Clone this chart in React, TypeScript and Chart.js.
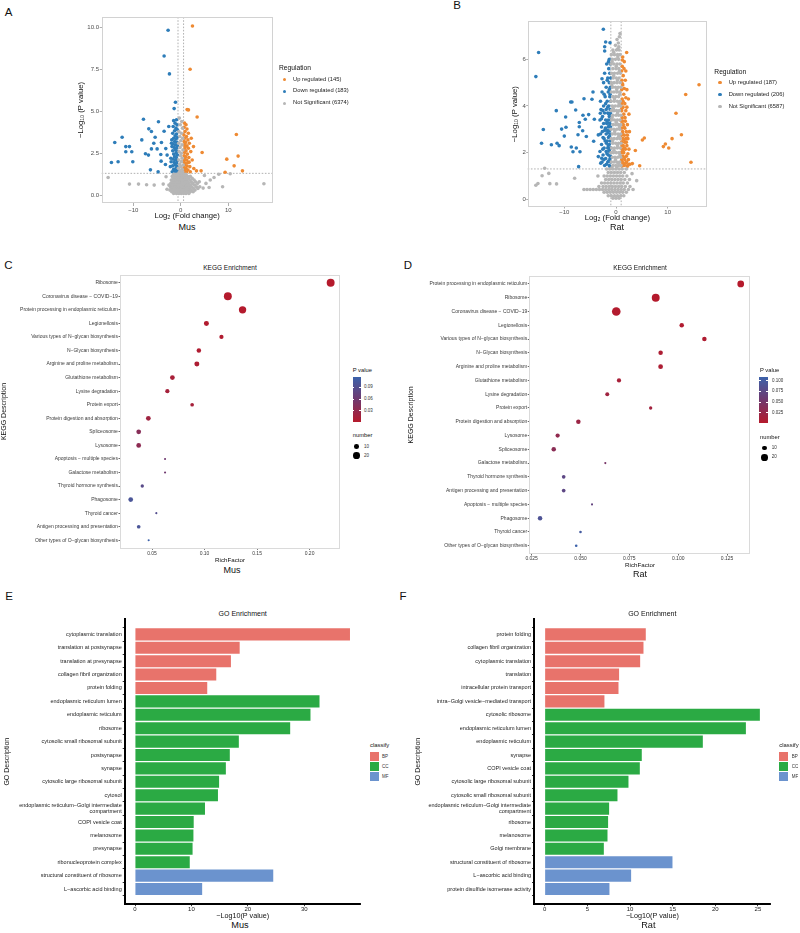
import React, { useEffect, useRef } from "react";
import { Chart, registerables } from "chart.js";

Chart.register(...registerables);

const FONT = "'Liberation Sans', Arial, Helvetica, sans-serif";

/* ---------------- Volcano plot: Mus ---------------- */
const musUp: number[][] = [
  [2.46, 10.1], [1.96, 7.52], [1.33, 5.11], [1.61, 5.09], [3.44, 4.67], [11.7, 3.62], [2.67, 2.9], [4.49, 2.55],
  [12.07, 2.33], [9.68, 2.15], [11.23, 1.75], [12.98, 1.45], [9.33, 1.37], [2.74, 1.59], [3.3, 1.45], [4.28, 1.45],
  [1.75, 1.97], [2.4, 2.1], [2.2, 3.4],
  [0.8, 4.3], [1.1, 4.2], [0.7, 4.05], [1.3, 3.95], [0.9, 3.8], [1.6, 3.7], [0.65, 3.6], [1.2, 3.5], [0.85, 3.4],
  [1.5, 3.3], [0.7, 3.2], [1.0, 3.15], [1.8, 3.1], [0.75, 3.0], [1.3, 2.95], [0.9, 2.85], [1.6, 2.8], [0.65, 2.7],
  [1.1, 2.65], [2.1, 2.6], [0.8, 2.55], [1.4, 2.45], [0.7, 2.35], [1.0, 2.3], [1.7, 2.25], [0.85, 2.15], [1.25, 2.1],
  [0.65, 2.0], [1.5, 1.95], [0.95, 1.9], [0.75, 1.8], [1.3, 1.75], [1.9, 1.7], [0.7, 1.65], [1.1, 1.6], [0.85, 1.5],
  [1.5, 1.5], [0.65, 1.42], [1.2, 1.38], [2.0, 1.4], [0.9, 1.35],
];
const musDown: number[][] = [
  [-2.67, 9.85], [-3.51, 8.31], [-2.39, 7.24], [-1.12, 5.55], [-1.4, 5.17], [-7.86, 4.53], [-4.7, 4.38], [-6.74, 3.96],
  [-6.18, 3.8], [-3.51, 3.82], [-13.9, 3.14], [-12.35, 3.46], [-8.21, 3.3], [-5.4, 3.46], [-11.58, 2.9], [-10.81, 2.9],
  [-11.58, 2.59], [-10.32, 2.59], [-5.68, 3.1], [-4.07, 3.14], [-6.18, 2.76], [-4.98, 2.76], [-7.44, 2.47], [-6.81, 2.39],
  [-4.21, 2.43], [-3.16, 2.78], [-2.88, 2.39], [-14.6, 1.95], [-13.2, 1.99], [-10.1, 1.99], [-4.14, 2.03], [-3.23, 1.83],
  [-6.39, 1.51], [-4.77, 1.39], [-1.96, 3.1], [-2.04, 1.99], [-2.53, 4.1],
  [-0.9, 4.5], [-1.5, 4.45], [-1.2, 4.3], [-0.8, 4.2], [-1.6, 4.1], [-1.0, 4.0], [-0.7, 3.9], [-1.3, 3.85], [-1.7, 3.7],
  [-0.9, 3.65], [-1.2, 3.55], [-0.75, 3.45], [-1.5, 3.4], [-1.0, 3.35], [-1.3, 3.2], [-0.8, 3.15], [-1.6, 3.05], [-1.1, 3.0],
  [-0.7, 2.95], [-1.4, 2.85], [-0.9, 2.8], [-1.2, 2.7], [-1.7, 2.65], [-0.8, 2.6], [-1.0, 2.5], [-1.5, 2.45], [-0.7, 2.4],
  [-1.3, 2.3], [-0.95, 2.25], [-1.6, 2.15], [-1.1, 2.1], [-0.75, 2.05], [-1.4, 1.95], [-0.9, 1.9], [-1.2, 1.8], [-1.7, 1.75],
  [-0.8, 1.7], [-1.0, 1.6], [-1.5, 1.55], [-0.7, 1.5], [-1.3, 1.45], [-1.0, 1.38], [-0.65, 1.35], [-1.8, 1.4], [-2.1, 2.2],
  [-1.9, 3.3], [-2.2, 1.7], [-1.85, 2.9],
];
const musNotSig: number[][] = [
  [-0.3, 4.6], [0.2, 4.4], [-0.1, 4.2], [0.35, 4.0], [-0.4, 3.8], [0.1, 3.7], [-0.2, 3.5], [0.4, 3.4], [0.0, 3.25],
  [-0.45, 3.1], [0.25, 3.0], [-0.15, 2.85], [0.45, 2.7], [-0.35, 2.6], [0.1, 2.5], [-0.05, 2.35], [0.3, 2.2], [-0.4, 2.1],
  [0.15, 2.0], [-0.25, 1.85], [0.5, 1.8], [0.0, 1.7], [-0.5, 1.6], [0.3, 1.55], [-0.15, 1.45], [0.4, 1.4], [-0.35, 1.35],
  [0.1, 1.3],
  [-1.5, 1.25], [-1.0, 1.25], [-0.6, 1.25], [-0.2, 1.25], [0.3, 1.25], [0.7, 1.25], [1.1, 1.25],
  [-1.8, 1.12], [-1.3, 1.12], [-0.8, 1.12], [-0.4, 1.12], [0.0, 1.12], [0.5, 1.12], [0.9, 1.12], [1.4, 1.12], [2.0, 1.12],
  [-1.6, 1.0], [-1.1, 1.0], [-0.7, 1.0], [-0.3, 1.0], [0.2, 1.0], [0.6, 1.0], [1.0, 1.0], [1.6, 1.0], [2.4, 1.0],
  [-2.0, 0.9], [-1.4, 0.9], [-0.9, 0.9], [-0.5, 0.9], [-0.1, 0.9], [0.3, 0.9], [0.8, 0.9], [1.2, 0.9], [1.9, 0.9], [2.8, 0.9],
  [-1.8, 0.8], [-1.2, 0.8], [-0.7, 0.8], [-0.2, 0.8], [0.1, 0.8], [0.5, 0.8], [1.0, 0.8], [1.5, 0.8], [2.2, 0.8], [3.1, 0.8],
  [-2.1, 0.7], [-1.5, 0.7], [-1.0, 0.7], [-0.6, 0.7], [-0.3, 0.7], [0.2, 0.7], [0.7, 0.7], [1.1, 0.7], [1.7, 0.7], [2.5, 0.7], [3.5, 0.7],
  [-1.9, 0.6], [-1.3, 0.6], [-0.8, 0.6], [-0.4, 0.6], [0.0, 0.6], [0.4, 0.6], [0.9, 0.6], [1.4, 0.6], [2.0, 0.6], [2.9, 0.6],
  [-2.2, 0.5], [-1.6, 0.5], [-1.1, 0.5], [-0.6, 0.5], [-0.2, 0.5], [0.3, 0.5], [0.6, 0.5], [1.1, 0.5], [1.6, 0.5], [2.3, 0.5], [3.3, 0.5], [4.0, 0.5],
  [-2.0, 0.4], [-1.4, 0.4], [-0.9, 0.4], [-0.4, 0.4], [0.1, 0.4], [0.5, 0.4], [0.9, 0.4], [1.3, 0.4], [1.9, 0.4], [2.7, 0.4], [3.6, 0.4],
  [-2.3, 0.3], [-1.7, 0.3], [-1.2, 0.3], [-0.7, 0.3], [-0.3, 0.3], [0.2, 0.3], [0.7, 0.3], [1.2, 0.3], [1.7, 0.3], [2.2, 0.3], [3.0, 0.3],
  [-1.9, 0.2], [-1.3, 0.2], [-0.8, 0.2], [-0.2, 0.2], [0.3, 0.2], [0.8, 0.2], [1.4, 0.2], [2.0, 0.2], [2.6, 0.2],
  [-1.5, 0.1], [-0.9, 0.1], [-0.4, 0.1], [0.1, 0.1], [0.6, 0.1], [1.1, 0.1], [1.7, 0.1],
  [-15.3, 1.05], [-10.8, 0.66], [-8.9, 0.66], [-7.2, 0.62], [-5.6, 0.6], [-3.7, 0.66], [-2.5, 0.6], [17.5, 0.68], [8.8, 0.5],
  [5.96, 0.46], [4.7, 0.42], [4.98, 1.17], [8.0, 1.25], [6.2, 0.9], [7.0, 1.05], [10.4, 1.28], [3.9, 0.8], [-3.1, 1.1],
  [-2.9, 0.35], [5.3, 0.7],
];
const musRegulation = ["Up regulated (145)", "Down regulated (183)", "Not Significant (6374)"];
const musFoldCut = 0.585;
const musVolcanoYTicks = [0, 2.5, 5, 7.5, 10];

/* ---------------- Volcano plot: Rat ---------------- */
const ratUp: number[][] = [
  [2.06, 6.29], [1.23, 5.97], [16.06, 4.91], [13.48, 4.49], [11.6, 3.69], [12.65, 2.77], [10.84, 2.6], [5.48, 2.63],
  [5.1, 2.54], [9.55, 2.37], [9.16, 2.26], [10.2, 2.2], [3.74, 2.09], [14.5, 1.59], [3.16, 1.53], [4.58, 1.44], [2.7, 1.5],
  [1.3, 6.1], [1.6, 5.9], [1.2, 5.7], [1.9, 5.5], [1.1, 5.5], [1.4, 5.3], [1.15, 5.1], [1.8, 5.1], [1.3, 4.9], [2.1, 4.7],
  [1.1, 4.7], [1.5, 4.5], [1.2, 4.3], [2.4, 4.3], [1.7, 4.1], [1.05, 4.1], [1.35, 3.95], [1.1, 3.8], [1.9, 3.8], [1.5, 3.65],
  [2.5, 3.65], [1.2, 3.5], [1.05, 3.35], [1.8, 3.35], [1.4, 3.2], [2.2, 3.2], [1.1, 3.05], [1.7, 3.05], [1.3, 2.9], [2.0, 2.9],
  [2.6, 2.9], [1.05, 2.75], [1.6, 2.75], [1.35, 2.6], [1.9, 2.6], [2.3, 2.6], [1.1, 2.45], [1.7, 2.45], [1.4, 2.3], [2.1, 2.3],
  [1.2, 2.15], [1.8, 2.15], [2.5, 2.15], [1.05, 2.0], [1.5, 2.0], [1.3, 1.85], [2.0, 1.85], [1.1, 1.7], [1.7, 1.7], [2.4, 1.7],
  [1.4, 1.55], [1.9, 1.55], [1.15, 1.42], [2.2, 1.42],
  [1.55, 5.6], [1.25, 4.95], [1.6, 4.75], [1.9, 4.35], [1.35, 4.2], [1.15, 3.9], [2.1, 3.95], [1.75, 3.5], [1.3, 3.35],
  [1.55, 3.1], [1.2, 2.8], [2.2, 2.75], [1.5, 2.55], [2.0, 2.45], [1.15, 2.3], [1.65, 2.2], [1.35, 2.05], [2.3, 1.95],
  [1.55, 1.8], [1.2, 1.6], [2.05, 1.6], [1.6, 1.45], [2.5, 1.5],
];
const ratDown: number[][] = [
  [-2.45, 7.29], [-14.97, 6.29], [-15.5, 5.26], [-2.0, 6.74], [-1.16, 6.71], [-2.19, 6.54], [-2.19, 6.36], [-2.71, 5.17],
  [-4.45, 4.6], [-6.19, 4.31], [-4.65, 4.29], [-8.77, 4.17], [-8.52, 4.17], [-11.55, 3.8], [-7.8, 3.83], [-6.39, 3.6],
  [-5.29, 3.63], [-9.74, 3.53], [-5.94, 3.43], [-4.19, 3.43], [-7.1, 3.29], [-14.06, 2.99], [-10.52, 3.01], [-9.68, 3.09],
  [-7.1, 3.11], [-6.45, 2.94], [-10.0, 2.71], [-7.35, 2.77], [-5.74, 2.69], [-4.32, 2.49], [-14.4, 2.4], [-12.5, 2.34],
  [-11.4, 2.4], [-11.0, 2.3], [-8.65, 2.24], [-7.68, 2.2], [-8.32, 2.04], [-6.97, 2.04], [-3.42, 2.76], [-3.42, 1.83],
  [-2.77, 1.76], [-7.23, 1.4], [-3.03, 3.69],
  [-1.3, 6.0], [-1.8, 5.8], [-1.1, 5.8], [-1.4, 5.6], [-2.2, 5.4], [-1.2, 5.4], [-1.6, 5.2], [-1.05, 5.2], [-2.4, 5.0],
  [-1.3, 5.0], [-1.9, 4.8], [-1.1, 4.8], [-2.7, 4.6], [-1.5, 4.6], [-2.1, 4.4], [-1.2, 4.4], [-3.0, 4.2], [-1.7, 4.2],
  [-1.05, 4.2], [-2.4, 4.0], [-1.4, 4.0], [-2.9, 3.85], [-1.9, 3.85], [-1.15, 3.85], [-2.2, 3.7], [-1.6, 3.7], [-1.05, 3.7],
  [-2.6, 3.55], [-1.3, 3.55], [-3.1, 3.4], [-2.0, 3.4], [-1.5, 3.4], [-1.1, 3.4], [-2.4, 3.25], [-1.8, 3.25], [-1.2, 3.25],
  [-2.8, 3.1], [-1.5, 3.1], [-1.05, 3.1], [-2.2, 2.95], [-1.7, 2.95], [-1.25, 2.95], [-3.0, 2.8], [-1.9, 2.8], [-1.1, 2.8],
  [-2.5, 2.65], [-1.45, 2.65], [-2.1, 2.5], [-1.7, 2.5], [-1.15, 2.5], [-2.8, 2.35], [-1.3, 2.35], [-2.3, 2.2], [-1.6, 2.2],
  [-1.05, 2.2], [-3.1, 2.05], [-1.9, 2.05], [-1.25, 2.05], [-2.5, 1.9], [-1.5, 1.9], [-2.0, 1.75], [-1.15, 1.75], [-2.7, 1.6],
  [-1.6, 1.6], [-1.05, 1.6], [-2.2, 1.45], [-1.3, 1.45],
  [-1.45, 5.9], [-1.7, 5.1], [-1.3, 4.7], [-2.3, 4.5], [-1.15, 4.5], [-2.0, 4.1], [-1.6, 3.95], [-2.55, 3.8], [-1.35, 3.65],
  [-2.8, 3.45], [-1.7, 3.3], [-1.35, 3.15], [-2.05, 3.05], [-2.65, 2.9], [-1.55, 2.85], [-1.3, 2.7], [-2.3, 2.6], [-1.85, 2.4],
  [-1.5, 2.3], [-2.55, 2.15], [-1.35, 2.1], [-1.75, 1.95], [-1.1, 1.85], [-2.35, 1.7], [-1.4, 1.65], [-1.85, 1.5], [-2.95, 1.55],
  [-1.15, 1.4],
];
const ratNotSig: number[][] = [
  [0.77, 7.11], [0.65, 6.97], [0.45, 6.7], [0.55, 6.54], [0.2, 6.85], [-0.1, 6.6], [0.35, 6.45],
  [-0.6, 6.4], [0.1, 6.4], [0.6, 6.4], [-0.9, 6.2], [-0.3, 6.2], [0.3, 6.2], [0.8, 6.2], [-0.7, 6.0], [-0.1, 6.0], [0.5, 6.0],
  [-0.95, 5.8], [-0.4, 5.8], [0.2, 5.8], [0.75, 5.8], [-0.6, 5.6], [0.0, 5.6], [0.55, 5.6], [-0.85, 5.4], [-0.3, 5.4], [0.3, 5.4],
  [0.85, 5.4], [-0.55, 5.2], [0.05, 5.2], [0.6, 5.2], [-0.9, 5.0], [-0.35, 5.0], [0.2, 5.0], [0.8, 5.0], [-0.65, 4.8], [-0.1, 4.8],
  [0.45, 4.8], [0.95, 4.8], [-0.9, 4.6], [-0.4, 4.6], [0.15, 4.6], [0.7, 4.6], [-0.6, 4.4], [-0.05, 4.4], [0.5, 4.4],
  [-0.95, 4.2], [-0.35, 4.2], [0.25, 4.2], [0.8, 4.2], [-0.7, 4.0], [-0.15, 4.0], [0.4, 4.0], [0.9, 4.0], [-0.9, 3.8],
  [-0.4, 3.8], [0.1, 3.8], [0.65, 3.8], [-0.6, 3.6], [0.0, 3.6], [0.5, 3.6], [0.95, 3.6], [-0.85, 3.4], [-0.3, 3.4], [0.25, 3.4],
  [0.75, 3.4], [-0.55, 3.2], [-0.05, 3.2], [0.45, 3.2], [0.9, 3.2], [-0.95, 3.0], [-0.4, 3.0], [0.15, 3.0], [0.7, 3.0],
  [-0.7, 2.8], [-0.15, 2.8], [0.4, 2.8], [0.9, 2.8], [-0.9, 2.6], [-0.35, 2.6], [0.2, 2.6], [0.75, 2.6], [-0.6, 2.4],
  [-0.05, 2.4], [0.5, 2.4], [0.95, 2.4], [-0.85, 2.2], [-0.3, 2.2], [0.25, 2.2], [0.8, 2.2], [-0.95, 2.0], [-0.5, 2.0],
  [0.05, 2.0], [0.6, 2.0], [-0.7, 1.8], [-0.2, 1.8], [0.35, 1.8], [0.9, 1.8], [-0.9, 1.6], [-0.4, 1.6], [0.15, 1.6], [0.7, 1.6],
  [-0.6, 1.45], [-0.05, 1.45], [0.5, 1.45], [0.95, 1.45],
  [-0.45, 6.3], [0.35, 6.1], [-0.75, 5.9], [0.05, 5.7], [0.65, 5.5], [-0.45, 5.3], [0.3, 5.1], [-0.8, 4.9], [0.15, 4.7],
  [0.75, 4.5], [-0.3, 4.3], [0.6, 4.1], [-0.55, 3.9], [0.3, 3.7], [-0.75, 3.5], [0.05, 3.3], [0.65, 3.1], [-0.25, 2.9],
  [0.55, 2.7], [-0.65, 2.5], [0.3, 2.3], [-0.4, 2.1], [0.75, 1.9], [-0.1, 1.7], [0.45, 1.55], [-0.8, 1.35], [0.15, 1.38],
  [-1.8, 1.3], [-1.2, 1.3], [-0.6, 1.3], [0.0, 1.3], [0.6, 1.3], [1.2, 1.3], [2.0, 1.3],
  [-1.5, 1.15], [-0.9, 1.15], [-0.3, 1.15], [0.3, 1.15], [0.9, 1.15], [1.6, 1.15],
  [-2.3, 1.0], [-1.7, 1.0], [-1.1, 1.0], [-0.5, 1.0], [0.1, 1.0], [0.7, 1.0], [1.3, 1.0], [2.1, 1.0],
  [-2.0, 0.85], [-1.4, 0.85], [-0.8, 0.85], [-0.2, 0.85], [0.4, 0.85], [1.0, 0.85], [1.7, 0.85], [2.6, 0.85],
  [-2.8, 0.7], [-2.2, 0.7], [-1.6, 0.7], [-1.0, 0.7], [-0.4, 0.7], [0.2, 0.7], [0.8, 0.7], [1.4, 0.7], [2.2, 0.7],
  [-3.3, 0.55], [-2.5, 0.55], [-1.9, 0.55], [-1.3, 0.55], [-0.7, 0.55], [-0.1, 0.55], [0.5, 0.55], [1.1, 0.55], [1.8, 0.55], [2.7, 0.55],
  [-6.2, 0.42], [-5.6, 0.42], [-5.0, 0.42], [-4.4, 0.42], [-3.8, 0.42], [-3.2, 0.42], [-2.6, 0.42], [-2.0, 0.42], [-1.4, 0.42],
  [-0.8, 0.42], [-0.2, 0.42], [0.4, 0.42], [1.0, 0.42], [1.6, 0.42], [2.4, 0.42], [3.3, 0.42],
  [-2.3, 0.3], [-1.7, 0.3], [-1.1, 0.3], [-0.5, 0.3], [0.1, 0.3], [0.7, 0.3], [1.3, 0.3], [2.0, 0.3],
  [-1.5, 0.15], [-0.9, 0.15], [-0.3, 0.15], [0.3, 0.15], [0.9, 0.15], [1.5, 0.15], [-0.6, 0.05], [0.0, 0.05], [0.6, 0.05],
  [-15.5, 0.6], [-15.1, 0.68], [-14.3, 1.01], [-13.0, 1.11], [-12.8, 0.67], [-11.5, 0.66], [-13.8, 1.33], [-8.0, 0.9],
  [-3.5, 1.0], [4.0, 0.8], [3.1, 1.1],
];
const ratRegulation = ["Up regulated (187)", "Down regulated (206)", "Not Significant (6587)"];
const ratFoldCut = 1;
const ratVolcanoYTicks = [0, 2, 4, 6];

const pValueCut = 1.301; // -log10(0.05)
const volcanoXTicks = [-10, 0, 10];

/* ---------------- KEGG enrichment: Mus ---------------- */
const musKeggTerms = [
  "Ribosome", "Coronavirus disease \u2212 COVID\u221219", "Protein processing in endoplasmic reticulum", "Legionellosis",
  "Various types of N\u2212glycan biosynthesis", "N\u2212Glycan biosynthesis", "Arginine and proline metabolism",
  "Glutathione metabolism", "Lysine degradation", "Protein export", "Protein digestion and absorption", "Spliceosome",
  "Lysosome", "Apoptosis \u2212 multiple species", "Galactose metabolism", "Thyroid hormone synthesis", "Phagosome",
  "Thyroid cancer", "Antigen processing and presentation", "Other types of O\u2212glycan biosynthesis",
];
const musKeggRich = [0.2201, 0.1222, 0.1362, 0.1018, 0.1161, 0.0946, 0.0927, 0.0694, 0.0646, 0.0882, 0.0465, 0.0373, 0.0373, 0.0624, 0.0624, 0.0407, 0.0297, 0.0541, 0.0373, 0.0468];
const musKeggCount = [28, 28, 24, 11, 8, 9, 11, 10, 8, 6, 10, 10, 10, 2, 2, 5, 10, 2, 6, 2];
const musKeggP = [0.0015, 0.002, 0.002, 0.004, 0.005, 0.006, 0.008, 0.012, 0.015, 0.014, 0.02, 0.04, 0.035, 0.06, 0.06, 0.085, 0.1, 0.09, 0.1, 0.117];
const musRichTicks = [0.05, 0.1, 0.15, 0.2];
const musPTicks = [0.03, 0.06, 0.09];

/* ---------------- KEGG enrichment: Rat ---------------- */
const ratKeggTerms = [
  "Protein processing in endoplasmic reticulum", "Ribosome", "Coronavirus disease \u2212 COVID\u221219", "Legionellosis",
  "Various types of N\u2212glycan biosynthesis", "N\u2212Glycan biosynthesis", "Arginine and proline metabolism",
  "Glutathione metabolism", "Lysine degradation", "Protein export", "Protein digestion and absorption", "Lysosome",
  "Spliceosome", "Galactose metabolism", "Thyroid hormone synthesis", "Antigen processing and presentation",
  "Apoptosis \u2212 multiple species", "Phagosome", "Thyroid cancer", "Other types of O\u2212glycan biosynthesis",
];
const ratKeggRich = [0.132, 0.0885, 0.0683, 0.1018, 0.1134, 0.091, 0.091, 0.0697, 0.0637, 0.0859, 0.0489, 0.0383, 0.0363, 0.0627, 0.0414, 0.0414, 0.0559, 0.0293, 0.05, 0.0478];
const ratKeggCount = [20, 28, 33, 9, 9, 9, 10, 8, 7, 5, 9, 8, 9, 2, 6, 6, 2, 9, 3, 3];
const ratKeggP = [0.0016, 0.002, 0.003, 0.005, 0.006, 0.008, 0.008, 0.012, 0.018, 0.016, 0.022, 0.03, 0.035, 0.05, 0.075, 0.075, 0.07, 0.09, 0.1, 0.109];
const ratRichTicks = [0.025, 0.05, 0.075, 0.1, 0.125];
const ratPTicks = [0.025, 0.05, 0.075, 0.1];

const numberLegend = [10, 20];

/* ---------------- GO enrichment: Mus ---------------- */
const musGoTerms = [
  "cytoplasmic translation", "translation at postsynapse", "translation at presynapse", "collagen fibril organization",
  "protein folding", "endoplasmic reticulum lumen", "endoplasmic reticulum", "ribosome", "cytosolic small ribosomal subunit",
  "postsynapse", "synapse", "cytosolic large ribosomal subunit", "cytosol",
  "endoplasmic reticulum\u2212Golgi intermediate compartment", "COPI vesicle coat", "melanosome", "presynapse",
  "ribonucleoprotein complex", "structural constituent of ribosome", "L\u2212ascorbic acid binding",
];
const musGoValues = [38.1, 18.55, 17.0, 14.4, 12.8, 32.7, 31.1, 27.5, 18.4, 16.8, 16.1, 14.9, 14.7, 12.4, 10.4, 10.35, 10.2, 9.7, 24.5, 11.9];
const musGoClass = ["BP", "BP", "BP", "BP", "BP", "CC", "CC", "CC", "CC", "CC", "CC", "CC", "CC", "CC", "CC", "CC", "CC", "CC", "MF", "MF"];
const musGoTicks = [0, 10, 20, 30];

/* ---------------- GO enrichment: Rat ---------------- */
const ratGoTerms = [
  "protein folding", "collagen fibril organization", "cytoplasmic translation", "translation",
  "intracellular protein transport", "intra\u2212Golgi vesicle\u2212mediated transport", "cytosolic ribosome",
  "endoplasmic reticulum lumen", "endoplasmic reticulum", "synapse", "COPI vesicle coat",
  "cytosolic large ribosomal subunit", "cytosolic small ribosomal subunit",
  "endoplasmic reticulum\u2212Golgi intermediate compartment", "ribosome", "melanosome", "Golgi membrane",
  "structural constituent of ribosome", "L\u2212ascorbic acid binding", "protein disulfide isomerase activity",
];
const ratGoValues = [11.85, 11.58, 11.19, 8.72, 8.65, 7.0, 25.23, 23.59, 18.54, 11.38, 11.15, 9.82, 8.53, 7.55, 7.43, 7.36, 6.93, 14.98, 10.13, 7.59];
const ratGoClass = ["BP", "BP", "BP", "BP", "BP", "BP", "CC", "CC", "CC", "CC", "CC", "CC", "CC", "CC", "CC", "CC", "CC", "MF", "MF", "MF"];
const ratGoTicks = [0, 5, 10, 15, 20, 25];

const goClasses = ["BP", "CC", "MF"];

/* ---------------- styling ---------------- */
const ORANGE = "#EE8A33";
const BLUE = "#2E7DB9";
const GREY = "#B6B6B6";
const GO_COLORS: Record<string, string> = { BP: "#E8736B", CC: "#2BAA44", MF: "#6B93CE" };
const P_LOW = [181, 26, 44];
const P_MID = [112, 56, 110];
const P_HIGH = [60, 98, 170];

function pColor(p: number, lo: number, hi: number) {
  const t = Math.min(1, Math.max(0, (p - lo) / (hi - lo)));
  const [a, b, u] = t < 0.5 ? [P_LOW, P_MID, t * 2] : [P_MID, P_HIGH, (t - 0.5) * 2];
  const c = (a as number[]).map((v, i) => Math.round(v + ((b as number[])[i] - v) * (u as number)));
  return `rgb(${c[0]},${c[1]},${c[2]})`;
}
const rgbStr = (c: number[]) => `rgb(${c[0]},${c[1]},${c[2]})`;
const dotRadius = (n: number) => 0.75 * Math.sqrt(n);
const minusFmt = (v: number) => (v < 0 ? "\u2212" + Math.abs(v) : String(v));

function wrapLabel(s: string, width = 40): string | string[] {
  if (s.length <= width) return s;
  const lines: string[] = [];
  let cur = "";
  for (const w of s.split(" ")) {
    if (cur && (cur + " " + w).length > width) {
      lines.push(cur);
      cur = w;
    } else cur = cur ? cur + " " + w : w;
  }
  if (cur) lines.push(cur);
  return lines;
}

/* ---------------- layout helpers ---------------- */
interface Geo { cl: number; ct: number; cw: number; ch: number; pl: number; pt: number; pr: number; pb: number; }

function frameLayout(g: Geo) {
  return {
    padding: { left: 0, top: g.pt - g.ct, right: g.cl + g.cw - g.pr, bottom: 0 },
    yWidth: g.pl - g.cl,
    xHeight: g.ct + g.ch - g.pb,
  };
}

interface AxisOpts {
  min: number; max: number; ticks: number[]; label: (v: number) => string | string[];
  size: number; color: string; tickLen: number; pad: number; tickColor: string;
  fit: (s: any) => void; title?: string; titleSize?: number; reverse?: boolean;
  border?: { color: string; width: number }; lineHeight?: number;
}

function axis(o: AxisOpts) {
  return {
    type: "linear",
    min: o.min,
    max: o.max,
    reverse: !!o.reverse,
    afterBuildTicks: (s: any) => {
      s.ticks = o.ticks.map((value) => ({ value }));
    },
    afterFit: o.fit,
    ticks: {
      autoSkip: false, maxRotation: 0, minRotation: 0, padding: o.pad, color: o.color,
      font: { family: FONT, size: o.size, lineHeight: o.lineHeight ?? 1.2 },
      callback: (v: any) => o.label(Number(v)),
    },
    grid: { display: true, drawOnChartArea: false, drawTicks: true, tickLength: o.tickLen, color: o.tickColor, lineWidth: 0.8 },
    border: o.border ? { display: true, color: o.border.color, width: o.border.width } : { display: false },
    title: o.title
      ? { display: true, text: o.title, color: "#111", font: { family: FONT, size: o.titleSize }, padding: 0 }
      : { display: false },
  };
}

const framePlugin = {
  id: "frame",
  afterDatasetsDraw(chart: any, _a: any, opts: any) {
    if (!opts || !opts.color) return;
    const { ctx, chartArea: a } = chart;
    ctx.save();
    ctx.strokeStyle = opts.color;
    ctx.lineWidth = 1;
    ctx.strokeRect(Math.round(a.left) + 0.5, Math.round(a.top) + 0.5, Math.round(a.right - a.left) - 1, Math.round(a.bottom - a.top) - 1);
    ctx.restore();
  },
};

const cutLinesPlugin = {
  id: "cutLines",
  beforeDatasetsDraw(chart: any, _a: any, opts: any) {
    if (!opts || !opts.xs) return;
    const { ctx, chartArea: a, scales } = chart;
    ctx.save();
    ctx.strokeStyle = "#A8A8A8";
    ctx.lineWidth = 0.9;
    ctx.setLineDash([1.6, 1.6]);
    for (const v of opts.xs) {
      const px = scales.x.getPixelForValue(v);
      ctx.beginPath();
      ctx.moveTo(px, a.top);
      ctx.lineTo(px, a.bottom);
      ctx.stroke();
    }
    const py = scales.y.getPixelForValue(opts.y);
    ctx.beginPath();
    ctx.moveTo(a.left, py);
    ctx.lineTo(a.right, py);
    ctx.stroke();
    ctx.restore();
  },
};

const baseOptions = (g: Geo) => ({
  responsive: false,
  animation: false,
  events: [],
  layout: { padding: frameLayout(g).padding },
});

/* ---------------- chart builders ---------------- */
function volcano(canvas: HTMLCanvasElement, g: Geo, d: {
  up: number[][]; down: number[][]; ns: number[][]; xMin: number; xMax: number; yMin: number; yMax: number;
  yTicks: number[]; yFmt: (v: number) => string; fold: number; xTl: [number, number]; yTl: [number, number];
}) {
  const L = frameLayout(g);
  const ds = (pts: number[][], color: string) => ({
    data: pts.map(([x, y]) => ({ x, y })),
    pointBackgroundColor: color,
    pointBorderWidth: 0,
    pointRadius: 1.8,
    showLine: false,
  });
  return new Chart(canvas, {
    type: "scatter",
    data: { datasets: [ds(d.ns, GREY), ds(d.down, BLUE), ds(d.up, ORANGE)] },
    options: {
      ...baseOptions(g),
      plugins: {
        legend: { display: false }, tooltip: { enabled: false },
        frame: { color: "#D2D2D2" }, cutLines: { xs: [-d.fold, d.fold], y: pValueCut },
      },
      scales: {
        x: axis({
          min: d.xMin, max: d.xMax, ticks: volcanoXTicks, label: minusFmt, size: 6, color: "#4D4D4D",
          tickLen: d.xTl[0], pad: d.xTl[1], tickColor: "#9A9A9A", fit: (s) => { s.height = L.xHeight; },
          title: "Log\u2082 (Fold change)", titleSize: 7.7,
        }),
        y: axis({
          min: d.yMin, max: d.yMax, ticks: d.yTicks, label: d.yFmt, size: 6, color: "#4D4D4D",
          tickLen: d.yTl[0], pad: d.yTl[1], tickColor: "#9A9A9A", fit: (s) => { s.width = L.yWidth; },
          title: "\u2212Log\u2081\u2080 (P value)", titleSize: 7.7,
        }),
      },
    } as any,
    plugins: [framePlugin, cutLinesPlugin],
  });
}

function kegg(canvas: HTMLCanvasElement, g: Geo, d: {
  terms: string[]; rich: number[]; count: number[]; p: number[]; xMin: number; xMax: number;
  xTicks: number[]; xFmt: (v: number) => string;
}) {
  const L = frameLayout(g);
  const lo = Math.min(...d.p);
  const hi = Math.max(...d.p);
  return new Chart(canvas, {
    type: "scatter",
    data: {
      datasets: [{
        data: d.terms.map((_, i) => ({ x: d.rich[i], y: i })),
        pointBackgroundColor: d.p.map((p) => pColor(p, lo, hi)),
        pointRadius: d.count.map(dotRadius),
        pointBorderWidth: 0,
        showLine: false,
      }],
    },
    options: {
      ...baseOptions(g),
      plugins: { legend: { display: false }, tooltip: { enabled: false }, frame: { color: "#DADADA" } },
      scales: {
        x: axis({
          min: d.xMin, max: d.xMax, ticks: d.xTicks, label: d.xFmt, size: 5, color: "#3A3A3A",
          tickLen: 1.5, pad: 0.3, tickColor: "#444", fit: (s) => { s.height = L.xHeight; },
          title: "RichFactor", titleSize: 6.2,
        }),
        y: axis({
          min: -0.6, max: d.terms.length - 0.4, reverse: true, ticks: d.terms.map((_, i) => i),
          label: (v) => d.terms[Math.round(v)] ?? "", size: 5, color: "#3A3A3A",
          tickLen: 1.5, pad: 0.6, tickColor: "#444", fit: (s) => { s.width = L.yWidth; },
          title: "KEGG Description", titleSize: 7,
        }),
      },
    } as any,
    plugins: [framePlugin],
  });
}

function goBars(canvas: HTMLCanvasElement, g: Geo, d: {
  terms: string[]; values: number[]; cls: string[]; xMin: number; xMax: number; xTicks: number[];
}) {
  const L = frameLayout(g);
  return new Chart(canvas, {
    type: "bar",
    data: {
      datasets: [{
        data: d.terms.map((_, i) => ({ x: d.values[i], y: i })),
        backgroundColor: d.cls.map((c) => GO_COLORS[c]),
        borderWidth: 0,
        barPercentage: 0.9,
        categoryPercentage: 1,
      }],
    },
    options: {
      ...baseOptions(g),
      indexAxis: "y",
      plugins: { legend: { display: false }, tooltip: { enabled: false } },
      scales: {
        x: axis({
          min: d.xMin, max: d.xMax, ticks: d.xTicks, label: (v) => String(v), size: 6, color: "#222",
          tickLen: 2, pad: -0.8, tickColor: "#000", fit: (s) => { s.height = L.xHeight; },
          title: "\u2212Log10(P value)", titleSize: 7.2, border: { color: "#000", width: 2 },
        }),
        y: axis({
          min: -0.6, max: d.terms.length - 0.4, reverse: true, ticks: d.terms.map((_, i) => i),
          label: (v) => wrapLabel(d.terms[Math.round(v)] ?? ""), size: 5.5, color: "#222", lineHeight: 1.05,
          tickLen: 2, pad: 1, tickColor: "#000", fit: (s) => { s.width = L.yWidth; },
          title: "GO Description", titleSize: 7, border: { color: "#000", width: 2 },
        }),
      },
    } as any,
  });
}

/* ---------------- panel geometry (canvas box + plot box) ---------------- */
const geoA: Geo = { cl: 76, ct: 4, cw: 204, ch: 217, pl: 101.7, pt: 17, pr: 272.7, pb: 203 };
const geoB: Geo = { cl: 510, ct: 8, cw: 205, ch: 215, pl: 527.7, pt: 21.3, pr: 707, pb: 207 };
const geoC: Geo = { cl: 0, ct: 268, cw: 348, ch: 296, pl: 120, pt: 274.6, pr: 340, pb: 548.4 };
const geoD: Geo = { cl: 407, ct: 268, cw: 352, ch: 301, pl: 529.3, pt: 275.7, pr: 750.7, pb: 554 };
const geoE: Geo = { cl: 3, ct: 612, cw: 365, ch: 308, pl: 124.7, pt: 619.2, pr: 360.7, pb: 904.2 };
const geoF: Geo = { cl: 414, ct: 612, cw: 364, ch: 308, pl: 534, pt: 619.2, pr: 770.7, pb: 904.2 };

/* ---------------- React pieces ---------------- */
function ChartBox({ geo, build }: { geo: Geo; build: (c: HTMLCanvasElement, g: Geo) => Chart }) {
  const ref = useRef<HTMLCanvasElement | null>(null);
  useEffect(() => {
    if (!ref.current) return;
    const chart = build(ref.current, geo);
    return () => chart.destroy();
  }, []);
  return (
    <canvas
      ref={ref}
      width={geo.cw}
      height={geo.ch}
      style={{ position: "absolute", left: geo.cl, top: geo.ct, width: geo.cw, height: geo.ch }}
    />
  );
}

function Txt({ x, y, size, children, anchor = "middle", color = "#111" }: {
  x: number; y: number; size: number; children: React.ReactNode; anchor?: "start" | "middle" | "end"; color?: string;
}) {
  const tx = anchor === "start" ? "0%" : anchor === "end" ? "-100%" : "-50%";
  return (
    <div style={{
      position: "absolute", left: x, top: y, transform: `translate(${tx}, -50%)`, fontFamily: FONT,
      fontSize: size, lineHeight: 1, whiteSpace: "nowrap", color,
    }}>{children}</div>
  );
}

function Dot({ cx, cy, r, color }: { cx: number; cy: number; r: number; color: string }) {
  return <div style={{ position: "absolute", left: cx - r, top: cy - r, width: 2 * r, height: 2 * r, borderRadius: "50%", background: color }} />;
}

function RegulationLegend({ x, y, labels, dotDx, textDx }: { x: number; y: number; labels: string[]; dotDx: number; textDx: number }) {
  const colors = [ORANGE, BLUE, GREY];
  return (
    <>
      <Txt x={x} y={y} size={6.7} anchor="start">Regulation</Txt>
      {labels.map((l, i) => (
        <React.Fragment key={l}>
          <Dot cx={x + dotDx} cy={y + 11.2 + 11.8 * i} r={1.6} color={colors[i]} />
          <Txt x={x + textDx} y={y + 11.2 + 11.8 * i} size={5.8} anchor="start" color="#222">{l}</Txt>
        </React.Fragment>
      ))}
    </>
  );
}

function PLegend({ x, titleY, barX, barW, barTop, barH, labelX, p, ticks, fmt, numY, dotX, numLabelX }: {
  x: number; titleY: number; barX: number; barW: number; barTop: number; barH: number; labelX: number;
  p: number[]; ticks: number[]; fmt: (v: number) => string; numY: number[]; dotX: number; numLabelX: number;
}) {
  const lo = Math.min(...p);
  const hi = Math.max(...p);
  const yOf = (v: number) => barTop + barH - ((v - lo) / (hi - lo)) * barH;
  return (
    <>
      <Txt x={x} y={titleY} size={5.8} anchor="start">P value</Txt>
      <div style={{
        position: "absolute", left: barX, top: barTop, width: barW, height: barH,
        background: `linear-gradient(to top, ${rgbStr(P_LOW)}, ${rgbStr(P_MID)}, ${rgbStr(P_HIGH)})`,
      }} />
      {ticks.map((t) => (
        <React.Fragment key={t}>
          <div style={{ position: "absolute", left: barX, top: yOf(t) - 0.4, width: 1.6, height: 0.8, background: "#fff" }} />
          <div style={{ position: "absolute", left: barX + barW - 1.6, top: yOf(t) - 0.4, width: 1.6, height: 0.8, background: "#fff" }} />
          <Txt x={labelX} y={yOf(t)} size={4.5} anchor="start" color="#333">{fmt(t)}</Txt>
        </React.Fragment>
      ))}
      <Txt x={x} y={numY[0] - 10.5} size={5.8} anchor="start">number</Txt>
      {numberLegend.map((n, i) => (
        <React.Fragment key={n}>
          <Dot cx={dotX} cy={numY[i]} r={dotRadius(n)} color="#000" />
          <Txt x={numLabelX} y={numY[i]} size={4.5} anchor="start" color="#333">{String(n)}</Txt>
        </React.Fragment>
      ))}
    </>
  );
}

function ClassLegend({ x, textX }: { x: number; textX: number }) {
  return (
    <>
      <Txt x={x} y={746} size={5.9} anchor="start">classify</Txt>
      {goClasses.map((c, i) => (
        <React.Fragment key={c}>
          <div style={{ position: "absolute", left: x, top: 752 + 10 * i, width: 8.7, height: 9.2, background: GO_COLORS[c] }} />
          <Txt x={textX} y={756.6 + 10 * i} size={4.5} anchor="start" color="#333">{c}</Txt>
        </React.Fragment>
      ))}
    </>
  );
}

export default function App() {
  return (
    <div style={{ position: "absolute", left: 0, top: 0, width: 800, height: 933, background: "#fff", overflow: "hidden", fontFamily: FONT }}>
      {/* Panel letters */}
      <Txt x={8.7} y={12.5} size={11.5}>A</Txt>
      <Txt x={457.2} y={6} size={11.5}>B</Txt>
      <Txt x={8.5} y={265.5} size={11.5}>C</Txt>
      <Txt x={408} y={265.5} size={11.5}>D</Txt>
      <Txt x={9} y={597} size={11.5}>E</Txt>
      <Txt x={403} y={597} size={11.5}>F</Txt>

      {/* A: volcano Mus */}
      <ChartBox geo={geoA} build={(c, g) => volcano(c, g, {
        up: musUp, down: musDown, ns: musNotSig, xMin: -16.65, xMax: 19.35, yMin: -0.47, yMax: 10.64,
        yTicks: musVolcanoYTicks, yFmt: (v) => v.toFixed(1), fold: musFoldCut, xTl: [3, 1.1], yTl: [2, 0.7],
      })} />
      <RegulationLegend x={279} y={68.3} labels={musRegulation} dotDx={5.3} textDx={14} />
      <Txt x={187} y={227} size={9}>Mus</Txt>

      {/* B: volcano Rat */}
      <ChartBox geo={geoB} build={(c, g) => volcano(c, g, {
        up: ratUp, down: ratDown, ns: ratNotSig, xMin: -17.08, xMax: 17.6, yMin: -0.33, yMax: 7.63,
        yTicks: ratVolcanoYTicks, yFmt: (v) => String(v), fold: ratFoldCut, xTl: [1.5, 0], yTl: [1.5, 0.3],
      })} />
      <RegulationLegend x={714.3} y={71.7} labels={ratRegulation} dotDx={5.7} textDx={14.4} />
      <Txt x={617} y={227} size={9}>Rat</Txt>

      {/* C: KEGG Mus */}
      <Txt x={230} y={268} size={6.5}>KEGG Enrichment</Txt>
      <ChartBox geo={geoC} build={(c, g) => kegg(c, g, {
        terms: musKeggTerms, rich: musKeggRich, count: musKeggCount, p: musKeggP, xMin: 0.0195, xMax: 0.229,
        xTicks: musRichTicks, xFmt: (v) => v.toFixed(2),
      })} />
      <PLegend x={352.7} titleY={370.7} barX={352.7} barW={8} barTop={376.7} barH={45} labelX={364}
        p={musKeggP} ticks={musPTicks} fmt={(v) => v.toFixed(2)} numY={[446.7, 455.7]} dotX={356.7} numLabelX={364} />
      <Txt x={232} y={569.5} size={9}>Mus</Txt>

      {/* D: KEGG Rat */}
      <Txt x={640} y={268} size={6.5}>KEGG Enrichment</Txt>
      <ChartBox geo={geoD} build={(c, g) => kegg(c, g, {
        terms: ratKeggTerms, rich: ratKeggRich, count: ratKeggCount, p: ratKeggP, xMin: 0.0238, xMax: 0.1371,
        xTicks: ratRichTicks, xFmt: (v) => v.toFixed(3),
      })} />
      <PLegend x={760} titleY={370.7} barX={759.3} barW={8.7} barTop={376.7} barH={46} labelX={772}
        p={ratKeggP} ticks={ratPTicks} fmt={(v) => v.toFixed(3)} numY={[448, 457.3]} dotX={764.3} numLabelX={771.7} />
      <Txt x={640} y={573.5} size={9}>Rat</Txt>

      {/* E: GO Mus */}
      <Txt x={242.7} y={612.7} size={7}>GO Enrichment</Txt>
      <ChartBox geo={geoE} build={(c, g) => goBars(c, g, {
        terms: musGoTerms, values: musGoValues, cls: musGoClass, xMin: -1.83, xMax: 40, xTicks: musGoTicks,
      })} />
      <ClassLegend x={370} textX={382} />
      <Txt x={240} y={926} size={9.2}>Mus</Txt>

      {/* F: GO Rat */}
      <Txt x={652.3} y={612.7} size={7}>GO Enrichment</Txt>
      <ChartBox geo={geoF} build={(c, g) => goBars(c, g, {
        terms: ratGoTerms, values: ratGoValues, cls: ratGoClass, xMin: -1.26, xMax: 26.5, xTicks: ratGoTicks,
      })} />
      <ClassLegend x={779.3} textX={791.7} />
      <Txt x={648.3} y={926} size={9.2}>Rat</Txt>
    </div>
  );
}
